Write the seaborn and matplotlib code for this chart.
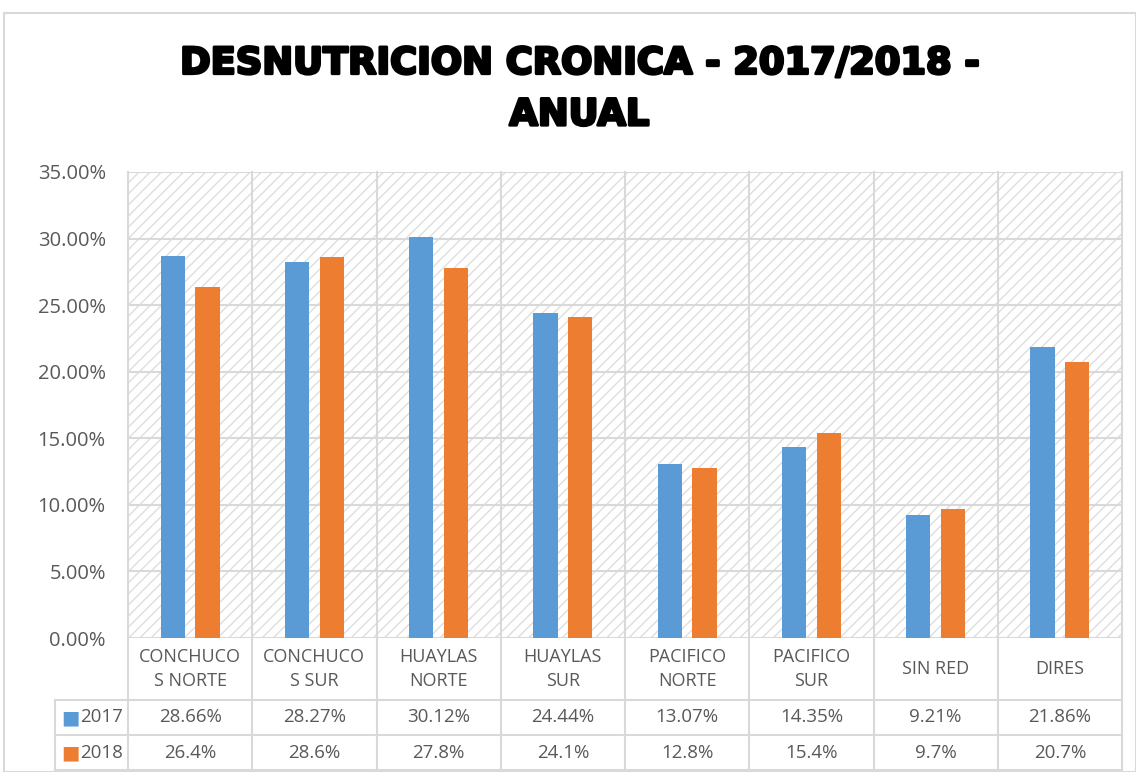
import numpy as np
import pandas as pd
import matplotlib
matplotlib.use('Agg')
import matplotlib.pyplot as plt
import matplotlib.patheffects as pe
from matplotlib.patches import Rectangle
import seaborn as sns

# --- data ---
regions = ['CONCHUCO\nS NORTE', 'CONCHUCO\nS SUR', 'HUAYLAS\nNORTE', 'HUAYLAS\nSUR',
           'PACIFICO\nNORTE', 'PACIFICO\nSUR', 'SIN RED', 'DIRES']
years = ['2017', '2018']
vals_2017 = [28.66, 28.27, 30.12, 24.44, 13.07, 14.35, 9.21, 21.86]
vals_2018 = [26.4, 28.6, 27.8, 24.1, 12.8, 15.4, 9.7, 20.7]
labels_2017 = ['28.66%', '28.27%', '30.12%', '24.44%', '13.07%', '14.35%', '9.21%', '21.86%']
labels_2018 = ['26.4%', '28.6%', '27.8%', '24.1%', '12.8%', '15.4%', '9.7%', '20.7%']
y_ticks = [0, 5, 10, 15, 20, 25, 30, 35]
title = 'DESNUTRICION CRONICA - 2017/2018 -\nANUAL'

colors = ['#5B9BD5', '#ED7D31']
grid_c = '#D9D9D9'
text_c = '#595959'

df = pd.DataFrame({
    'region': regions * 2,
    'year': [years[0]] * len(regions) + [years[1]] * len(regions),
    'value': vals_2017 + vals_2018,
})

plt.rcParams['font.family'] = ['Open Sans', 'DejaVu Sans']
plt.rcParams['hatch.linewidth'] = 1.0

fig = plt.figure(figsize=(11.36, 7.72), dpi=100)
ax = fig.add_axes([128 / 1136, (772 - 638) / 772, (1122 - 128) / 1136, (638 - 172) / 772])

# hatched plot area
ax.set_facecolor('white')
ax.add_patch(Rectangle((0, 0), 1, 1, transform=ax.transAxes, facecolor='white',
                       edgecolor='#DEDEDE', hatch='///', lw=0, zorder=0))

sns.barplot(data=df, x='region', y='value', hue='year', palette=colors, saturation=1,
            width=0.56, gap=0.3, edgecolor='none', legend=False, ax=ax, zorder=3)

ax.set_xlim(-0.5, len(regions) - 0.5)
ax.set_ylim(0, 35)
ax.set_yticks(y_ticks)
ax.set_yticklabels([f'{t:.2f}%' for t in y_ticks], color=text_c, fontsize=14.5)
ax.tick_params(axis='y', length=0, pad=16)
ax.set_xticks([])
ax.set_xlabel('')
ax.set_ylabel('')
for s in ax.spines.values():
    s.set_visible(False)

# horizontal gridlines
for t in y_ticks:
    ax.axhline(t, color=grid_c, lw=1.5, zorder=1)

# data table below the axes (x in data coords, y in axes coords)
tr = ax.get_xaxis_transform()
h_head = -62 / 466
h_r1 = -97 / 466
h_r2 = -132 / 466
x_leg = -0.5 - 73 / 124.25

for k in range(len(regions) + 1):
    ax.plot([k - 0.5, k - 0.5], [1, h_r2], transform=tr, color=grid_c, lw=1.5,
            clip_on=False, zorder=1)
ax.plot([x_leg, x_leg], [h_head, h_r2], transform=tr, color=grid_c, lw=1.5, clip_on=False)
for yy in [h_head, h_r1, h_r2]:
    ax.plot([x_leg, len(regions) - 0.5], [yy, yy], transform=tr, color=grid_c, lw=1.5,
            clip_on=False)

for k, name in enumerate(regions):
    ax.text(k, h_head / 2, name, transform=tr, ha='center', va='center', fontsize=13,
            color=text_c, linespacing=1.5)
    ax.text(k, (h_head + h_r1) / 2, labels_2017[k], transform=tr, ha='center',
            va='center', fontsize=13.5, color=text_c)
    ax.text(k, (h_r1 + h_r2) / 2, labels_2018[k], transform=tr, ha='center',
            va='center', fontsize=13.5, color=text_c)

for yr, c, (y0, y1) in zip(years, colors, [(h_head, h_r1), (h_r1, h_r2)]):
    ym = (y0 + y1) / 2
    ax.text(x_leg + 0.05, ym, '\u25A0', transform=tr, ha='left', va='center',
            fontsize=14, color=c, family='DejaVu Sans')
    ax.text(x_leg + 0.2, ym, yr, transform=tr, ha='left', va='center',
            fontsize=13.5, color=text_c)

# chart border
fig.add_artist(Rectangle((4 / 1136, 0), 1 - 4 / 1136, (772 - 13) / 772,
                         transform=fig.transFigure, fill=False, edgecolor='#D9D9D9', lw=1.5))

fig.text(0.51, (772 - 89) / 772, title, ha='center', va='center', fontsize=26.5,
         fontweight='bold', family='DejaVu Sans', color='black', linespacing=1.5,
         path_effects=[pe.withStroke(linewidth=2, foreground='black')])

fig.savefig('out.png', dpi=100)
